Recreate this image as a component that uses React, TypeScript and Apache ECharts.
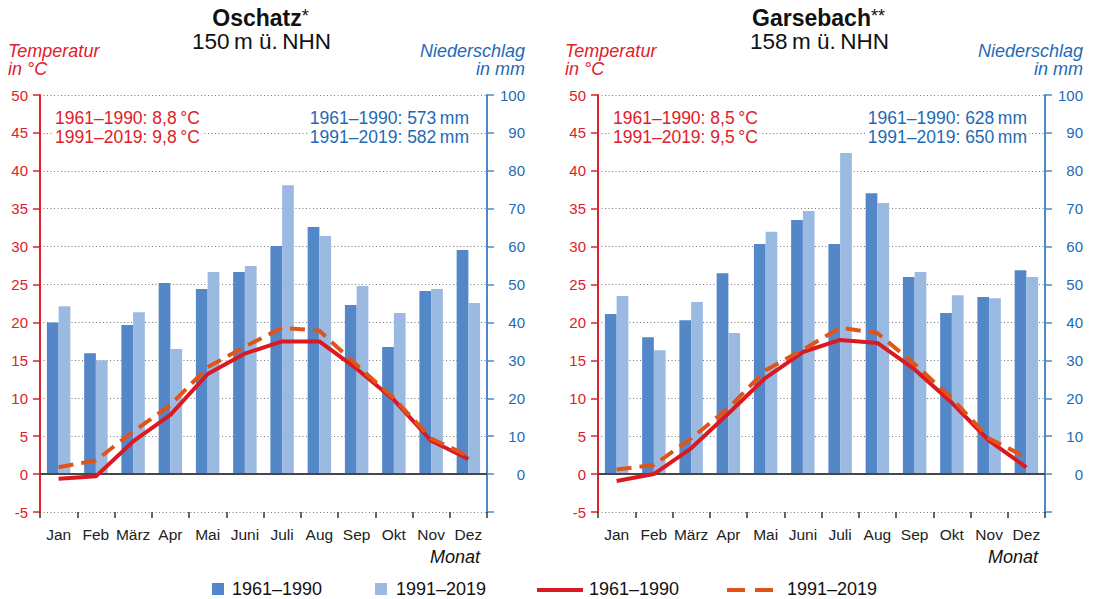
import React, { useEffect, useRef } from "react";
import * as echarts from "echarts";

const months = ["Jan", "Feb", "März", "Apr", "Mai", "Juni", "Juli", "Aug", "Sep", "Okt", "Nov", "Dez"];

const oschatzPrecip6190 = [40.0, 31.9, 39.3, 50.4, 48.8, 53.3, 60.2, 65.2, 44.6, 33.5, 48.3, 59.1];
const oschatzPrecip9119 = [44.3, 30.0, 42.7, 33.0, 53.3, 54.9, 76.2, 62.8, 49.6, 42.5, 48.8, 45.1];
const oschatzTemp6190 = [-0.6, -0.3, 4.3, 7.8, 13.2, 15.9, 17.5, 17.5, 13.9, 9.8, 4.4, 2.0];
const oschatzTemp9119 = [0.9, 1.8, 5.6, 9.1, 14.1, 16.8, 19.3, 18.9, 14.4, 10.0, 4.7, 2.4];

const garsebachPrecip6190 = [42.2, 36.1, 40.6, 53.0, 60.7, 67.0, 60.7, 74.1, 52.0, 42.5, 46.7, 53.8];
const garsebachPrecip9119 = [47.0, 32.7, 45.4, 37.2, 63.9, 69.4, 84.7, 71.5, 53.3, 47.2, 46.4, 52.0];
const garsebachTemp6190 = [-0.9, 0.0, 3.4, 8.0, 12.7, 16.1, 17.7, 17.3, 13.8, 9.4, 4.4, 0.9];
const garsebachTemp9119 = [0.6, 1.2, 4.7, 8.7, 13.7, 16.4, 19.3, 18.6, 14.5, 10.0, 4.7, 2.2];

const stations = ["Oschatz", "Garsebach"];
const stationMarks = ["*", "**"];
const elevations = ["150\u2009m ü.\u2009NHN", "158\u2009m ü.\u2009NHN"];
const tempMeans = [["1961–1990: 8,8\u2009°C", "1991–2019: 9,8\u2009°C"], ["1961–1990: 8,5\u2009°C", "1991–2019: 9,5\u2009°C"]];
const precipSums = [["1961–1990: 573\u2009mm", "1991–2019: 582\u2009mm"], ["1961–1990: 628\u2009mm", "1991–2019: 650\u2009mm"]];
const periods = ["1961–1990", "1991–2019"];

const FONT = "'Liberation Sans', Arial, Helvetica, sans-serif";
const RED = "#e0202a";
const RED_LINE = "#da1a20";
const ORANGE = "#e05418";
const BLUE_TEXT = "#1f6ab4";
const BLUE_AXIS = "#4a8ac8";
const BAR_DARK = "#5487c7";
const BAR_LIGHT = "#9bbae2";

const GRID_W = 447;
const GRID_LEFTS = [40, 598];
const GRID_TOP = 95;
const GRID_H = 417;

export default function App() {
  const ref = useRef<HTMLDivElement>(null);
  useEffect(() => {
    if (!ref.current) return;
    const chart = echarts.init(ref.current, undefined, { renderer: "svg" });
    const precip = [[oschatzPrecip6190, oschatzPrecip9119], [garsebachPrecip6190, garsebachPrecip9119]];
    const temp = [[oschatzTemp6190, oschatzTemp9119], [garsebachTemp6190, garsebachTemp9119]];

    const grids: any[] = [];
    const xAxes: any[] = [];
    const yAxes: any[] = [];
    const series: any[] = [];
    const graphics: any[] = [];

    for (let i = 0; i < 2; i++) {
      const left = GRID_LEFTS[i];
      const right = left + GRID_W;
      const center = left + GRID_W / 2;
      grids.push({ left, top: GRID_TOP, width: GRID_W, height: GRID_H });
      xAxes.push({
        type: "category",
        gridIndex: i,
        data: months,
        axisLine: { show: false, onZero: false },
        axisTick: { show: true, length: 6, lineStyle: { color: "#333", width: 1.5 } },
        axisLabel: { color: "#222", fontSize: 15.5, fontFamily: FONT, margin: 14, interval: 0 },
        splitLine: { show: false },
      });
      yAxes.push({
        type: "value",
        gridIndex: i,
        position: "left",
        min: -5,
        max: 50,
        interval: 5,
        axisLine: { show: true, lineStyle: { color: RED, width: 2 } },
        axisTick: { show: true, length: 7, lineStyle: { color: RED, width: 1.5 } },
        axisLabel: { color: RED, fontSize: 15, fontFamily: FONT, margin: 12 },
        splitLine: { show: true, lineStyle: { color: "#777", width: 1, type: [1, 2.5] } },
      });
      yAxes.push({
        type: "value",
        gridIndex: i,
        position: "right",
        min: -10,
        max: 100,
        interval: 10,
        axisLine: { show: true, lineStyle: { color: BLUE_AXIS, width: 2 } },
        axisTick: { show: true, length: 7, lineStyle: { color: BLUE_AXIS, width: 1.5 } },
        axisLabel: {
          color: BLUE_TEXT,
          fontSize: 15,
          fontFamily: FONT,
          align: "right",
          margin: 38,
          formatter: (v: number) => (v < 0 ? "" : String(v)),
        },
        splitLine: { show: false },
      });
      const yTemp = i * 2;
      const yPrec = i * 2 + 1;
      series.push({
        type: "bar",
        name: stations[i] + " Niederschlag " + periods[0],
        xAxisIndex: i,
        yAxisIndex: yPrec,
        data: precip[i][0],
        itemStyle: { color: BAR_DARK },
        barGap: "0%",
        barCategoryGap: "37%",
        z: 2,
      });
      series.push({
        type: "bar",
        name: stations[i] + " Niederschlag " + periods[1],
        xAxisIndex: i,
        yAxisIndex: yPrec,
        data: precip[i][1],
        itemStyle: { color: BAR_LIGHT },
        barGap: "0%",
        barCategoryGap: "37%",
        z: 2,
      });
      series.push({
        type: "line",
        name: stations[i] + " Temperatur " + periods[0],
        xAxisIndex: i,
        yAxisIndex: yTemp,
        data: temp[i][0],
        symbol: "none",
        lineStyle: { color: RED_LINE, width: 4 },
        z: 4,
        markLine: {
          silent: true,
          symbol: ["none", "none"],
          label: { show: false },
          lineStyle: { color: "#474747", width: 2, type: "solid" },
          data: [{ yAxis: 0 }],
          z: 3,
        },
      });
      series.push({
        type: "line",
        name: stations[i] + " Temperatur " + periods[1],
        xAxisIndex: i,
        yAxisIndex: yTemp,
        data: temp[i][1],
        symbol: "none",
        lineStyle: { color: ORANGE, width: 4, type: [15, 8] },
        z: 5,
      });

      graphics.push({
        type: "text",
        x: center - 3,
        y: 18,
        z: 100,
        style: {
          text: "{t|" + stations[i] + "}{s|" + stationMarks[i] + "}",
          textAlign: "center",
          textVerticalAlign: "middle",
          rich: {
            t: { fontSize: 23, fontWeight: "bold", fontFamily: FONT, fill: "#111" },
            s: { fontSize: 18, fontFamily: FONT, fill: "#111", verticalAlign: "top" },
          },
        },
      });
      graphics.push({
        type: "text",
        x: center - 2,
        y: 41,
        z: 100,
        style: { text: elevations[i], fontSize: 22.5, fontFamily: FONT, fill: "#111", textAlign: "center", textVerticalAlign: "middle" },
      });
      const tx = i === 0 ? 8 : 565;
      graphics.push({
        type: "text", x: tx, y: 50.5, z: 100,
        style: { text: "Temperatur", fontSize: 18, fontStyle: "italic", fontFamily: FONT, fill: RED, textAlign: "left", textVerticalAlign: "middle" },
      });
      graphics.push({
        type: "text", x: tx, y: 69, z: 100,
        style: { text: "in °C", fontSize: 18, fontStyle: "italic", fontFamily: FONT, fill: RED, textAlign: "left", textVerticalAlign: "middle" },
      });
      const nx = right + 38;
      graphics.push({
        type: "text", x: nx, y: 50.5, z: 100,
        style: { text: "Niederschlag", fontSize: 18, fontStyle: "italic", fontFamily: FONT, fill: BLUE_TEXT, textAlign: "right", textVerticalAlign: "middle" },
      });
      graphics.push({
        type: "text", x: nx, y: 69, z: 100,
        style: { text: "in mm", fontSize: 18, fontStyle: "italic", fontFamily: FONT, fill: BLUE_TEXT, textAlign: "right", textVerticalAlign: "middle" },
      });
      for (let k = 0; k < 2; k++) {
        graphics.push({
          type: "text", x: left + 13, y: 118 + k * 18.5, z: 100,
          style: {
            text: tempMeans[i][k], fontSize: 17.5, fontFamily: FONT, fill: RED,
            textAlign: "left", textVerticalAlign: "middle", backgroundColor: "#fff", padding: [0, 2, 0, 2],
          },
        });
        graphics.push({
          type: "text", x: right - 16, y: 118 + k * 18.5, z: 100,
          style: {
            text: precipSums[i][k], fontSize: 17.5, fontFamily: FONT, fill: BLUE_TEXT,
            textAlign: "right", textVerticalAlign: "middle", backgroundColor: "#fff", padding: [0, 2, 0, 2],
          },
        });
      }
      graphics.push({
        type: "text", x: right - 7, y: 557, z: 100,
        style: { text: "Monat", fontSize: 18, fontStyle: "italic", fontFamily: FONT, fill: "#111", textAlign: "right", textVerticalAlign: "middle" },
      });
    }

    // legend
    const LY = 589;
    graphics.push({ type: "rect", z: 100, shape: { x: 212, y: LY - 6, width: 12, height: 12 }, style: { fill: BAR_DARK } });
    graphics.push({ type: "text", z: 100, x: 232, y: LY, style: { text: periods[0], fontSize: 18, fontFamily: FONT, fill: "#111", textVerticalAlign: "middle" } });
    graphics.push({ type: "rect", z: 100, shape: { x: 375, y: LY - 6, width: 12, height: 12 }, style: { fill: BAR_LIGHT } });
    graphics.push({ type: "text", z: 100, x: 396, y: LY, style: { text: periods[1], fontSize: 18, fontFamily: FONT, fill: "#111", textVerticalAlign: "middle" } });
    graphics.push({ type: "line", z: 100, shape: { x1: 537, y1: LY + 1, x2: 583, y2: LY + 1 }, style: { stroke: RED_LINE, lineWidth: 4 } });
    graphics.push({ type: "text", z: 100, x: 589, y: LY, style: { text: periods[0], fontSize: 18, fontFamily: FONT, fill: "#111", textVerticalAlign: "middle" } });
    graphics.push({ type: "line", z: 100, shape: { x1: 727, y1: LY + 1, x2: 775, y2: LY + 1 }, style: { stroke: ORANGE, lineWidth: 4, lineDash: [18, 10] } });
    graphics.push({ type: "text", z: 100, x: 787, y: LY, style: { text: periods[1], fontSize: 18, fontFamily: FONT, fill: "#111", textVerticalAlign: "middle" } });

    chart.setOption({
      animation: false,
      backgroundColor: "#fff",
      textStyle: { fontFamily: FONT },
      grid: grids,
      xAxis: xAxes,
      yAxis: yAxes,
      series,
      graphic: { elements: graphics },
    });
    return () => chart.dispose();
  }, []);
  return <div ref={ref} style={{ position: "absolute", left: 0, top: 0, width: 1096, height: 599 }} />;
}
